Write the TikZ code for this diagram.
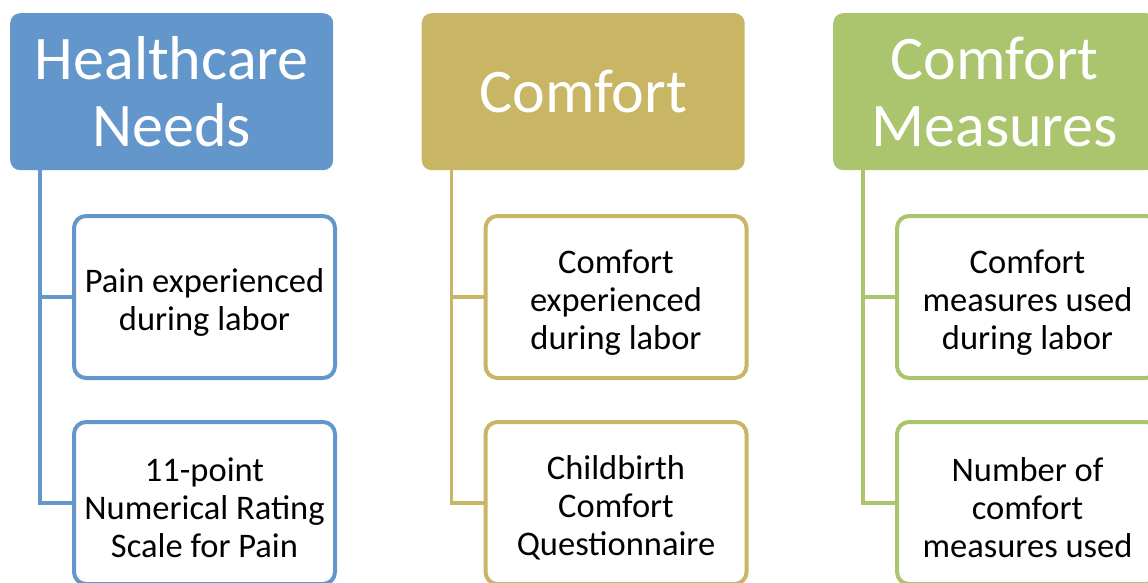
\documentclass[tikz,border=0pt]{standalone}
\usepackage{fontspec}
\setmainfont{Carlito}
\usepackage{xcolor}
\usepackage{tikz}
\usetikzlibrary{positioning}
\usetikzlibrary{arrows, arrows.meta}

\definecolor{needsblue}{RGB}{99,150,202}
\definecolor{comforttan}{RGB}{201,182,101}
\definecolor{measuresgreen}{RGB}{171,197,111}

\newcommand{\lift}{\rule{0pt}{34pt}}

\tikzset{
  head/.style={rounded corners=10pt, minimum width=323pt, minimum height=157pt,
    inner sep=0pt, text=white, align=center, font=\fontsize{62}{67}\selectfont},
  leaf/.style={draw, line width=4pt, fill=white, rounded corners=12pt,
    minimum width=261pt, minimum height=162pt, inner sep=0pt, align=center,
    font=\fontsize{34.5}{38}\selectfont},
  link/.style={line width=3.5pt},
}

\begin{document}
\begin{tikzpicture}[x=1pt,y=-1pt]
  \def\colsep{411.5}
  \def\stem{30}
  \def\indent{62}
  \def\drop{201}
  \def\gap{206}

  \useasboundingbox (0,0) rectangle (1148,583);
  \clip (0,0) rectangle (1148,583);

  \coordinate (n_0) at (10,13);
  \node[head, fill=needsblue, anchor=north west] (needs) at (n_0) {Healthcare\\Needs};
  \path (n_0) ++(\indent,\drop) coordinate (n_1);
  \path (n_1) ++(0,\gap) coordinate (n_2);
  \path (n_0) ++(\stem,157) coordinate (n_stem);

  \node[leaf, draw=needsblue, anchor=north west] (pain) at (n_1) {\lift Pain experienced\\during labor};
  \node[leaf, draw=needsblue, anchor=north west] (nrs) at (n_2) {\lift 11-point\\Numerical Rating\\Scale for Pain};

  \draw[link, needsblue] (n_stem) |- (pain.west);
  \draw[link, needsblue] (n_stem) |- (nrs.west);

  % 2nd
  \path (n_0) ++(\colsep,0) coordinate (c_0);
  \node[head, fill=comforttan, anchor=north west] (comfort) at (c_0) {Comfort};
  \path (c_0) ++(\indent,\drop) coordinate (c_1);
  \path (c_1) ++(0,\gap) coordinate (c_2);
  \path (c_0) ++(\stem,157) coordinate (c_stem);

  \node[leaf, draw=comforttan, anchor=north west] (felt) at (c_1) {\lift Comfort\\experienced\\during labor};
  \node[leaf, draw=comforttan, anchor=north west] (ccq) at (c_2) {\lift Childbirth\\Comfort\\Questionnaire};

  \draw[link, comforttan] (c_stem) |- (felt.west);
  \draw[link, comforttan] (c_stem) |- (ccq.west);

  % 3rd
  \path (c_0) ++(\colsep,0) coordinate (m_0);
  \node[head, fill=measuresgreen, anchor=north west] (measures) at (m_0) {Comfort\\Measures};
  \path (m_0) ++(\indent,\drop) coordinate (m_1);
  \path (m_1) ++(0,\gap) coordinate (m_2);
  \path (m_0) ++(\stem,157) coordinate (m_stem);

  \node[leaf, draw=measuresgreen, anchor=north west] (used) at (m_1) {\lift Comfort\\measures used\\during labor};
  \node[leaf, draw=measuresgreen, anchor=north west] (count) at (m_2) {\lift Number of\\comfort\\measures used};

  \draw[link, measuresgreen] (m_stem) |- (used.west);
  \draw[link, measuresgreen] (m_stem) |- (count.west);

\end{tikzpicture}
\end{document}
